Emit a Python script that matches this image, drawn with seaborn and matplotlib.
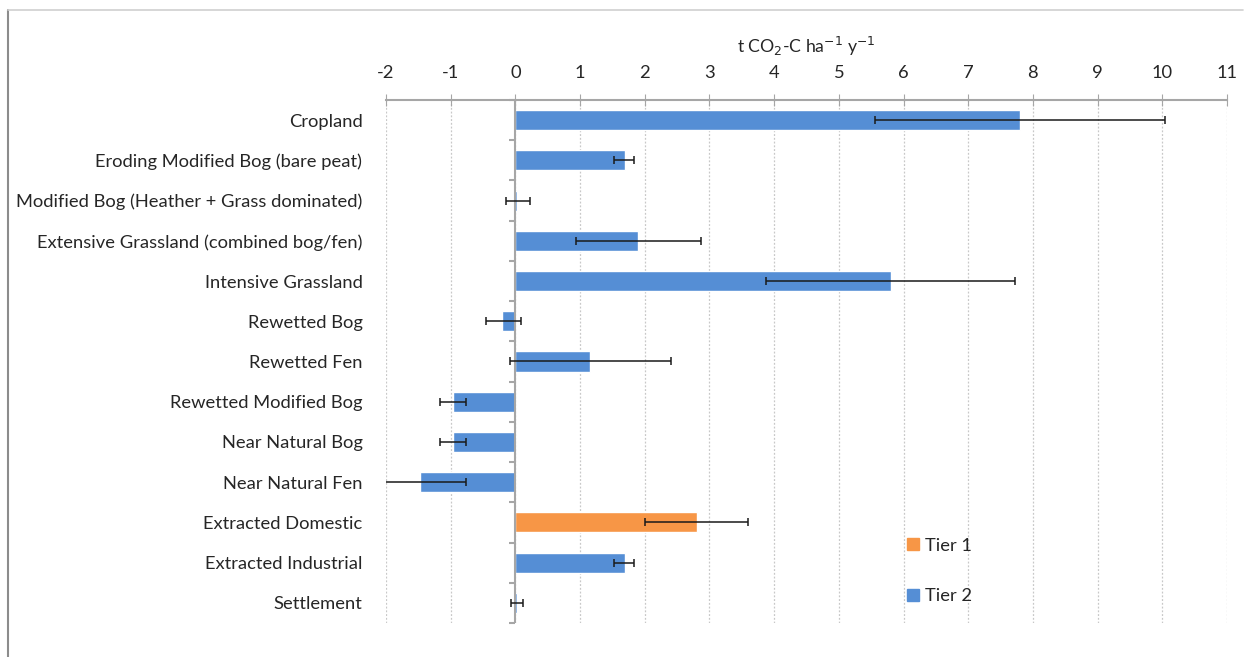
import numpy as np
import pandas as pd
import seaborn as sns
import matplotlib.pyplot as plt
from matplotlib.lines import Line2D

# Data
categories = [
    "Cropland",
    "Eroding Modified Bog (bare peat)",
    "Modified Bog (Heather + Grass dominated)",
    "Extensive Grassland (combined bog/fen)",
    "Intensive Grassland",
    "Rewetted Bog",
    "Rewetted Fen",
    "Rewetted Modified Bog",
    "Near Natural Bog",
    "Near Natural Fen",
    "Extracted Domestic",
    "Extracted Industrial",
    "Settlement",
]
values = [7.80, 1.69, 0.03, 1.89, 5.81, -0.20, 1.16, -0.97, -0.97, -1.48, 2.80, 1.69, 0.02]
err_low = [2.24, 0.16, 0.18, 0.96, 1.93, 0.26, 1.25, 0.20, 0.20, 0.70, 0.80, 0.16, 0.09]
err_high = [2.24, 0.15, 0.19, 0.98, 1.92, 0.28, 1.25, 0.20, 0.20, 0.71, 0.79, 0.15, 0.09]
tiers = ["Tier 2"] * 10 + ["Tier 1"] + ["Tier 2"] * 2

df = pd.DataFrame({"category": categories, "value": values, "tier": tiers})

sns.set_style("white")
plt.rcParams["font.family"] = ["Lato", "DejaVu Sans"]
plt.rcParams["axes.unicode_minus"] = False

blue = "#558ED5"
orange = "#F79646"
grey = "#A6A6A6"
text_col = "#262626"
fs = 13.2

fig = plt.figure(figsize=(12.44, 6.57), dpi=100)
ax = fig.add_axes([386 / 1244, 1 - 623 / 657, (1227 - 386) / 1244, (623 - 100) / 657])

sns.barplot(data=df, x="value", y="category", hue="tier", hue_order=["Tier 1", "Tier 2"],
            palette={"Tier 1": orange, "Tier 2": blue}, orient="h", dodge=False,
            width=0.5, errorbar=None, saturation=1, ax=ax, legend=False)

ypos = np.arange(len(categories))
ax.errorbar(values, ypos, xerr=[err_low, err_high], fmt="none", ecolor="#1a1a1a",
            elinewidth=1.1, capsize=3, capthick=1.1, zorder=5)

ax.set_xlim(-2, 11)
ax.set_ylim(len(categories) - 0.5, -0.5)
ax.set_xticks(range(-2, 12))
ax.xaxis.tick_top()
ax.xaxis.set_label_position("top")
ax.set_xlabel("t CO$_2$-C ha$^{-1}$ y$^{-1}$", fontsize=fs - 0.5, color=text_col, labelpad=8)
ax.tick_params(axis="x", direction="inout", length=8, color=grey, labelsize=fs,
               labelcolor=text_col, pad=10)
ax.tick_params(axis="y", length=0, labelsize=fs, labelcolor=text_col, pad=17)
ax.set_ylabel("")

for side in ["left", "right", "bottom"]:
    ax.spines[side].set_visible(False)
ax.spines["top"].set_color(grey)
ax.spines["top"].set_linewidth(1.5)

ax.grid(axis="x", color="#C8C8C8", linestyle=(0, (1.5, 1.5)), linewidth=0.9)
ax.set_axisbelow(True)

# vertical zero axis with category boundary ticks
ax.axvline(0, color=grey, lw=1.5, zorder=3)
bounds = np.arange(len(categories) + 1) - 0.5
ax.hlines(bounds, -0.1, 0, color=grey, lw=1.5, zorder=3, clip_on=False)

# legend
handles = [Line2D([], [], marker="s", ls="", markersize=9, color=orange),
           Line2D([], [], marker="s", ls="", markersize=9, color=blue)]
fig.legend(handles, ["Tier 1", "Tier 2"], loc="center left",
           bbox_to_anchor=(887 / 1244, 1 - 571 / 657), frameon=False, fontsize=fs,
           labelspacing=1.9, handletextpad=0.15, handlelength=1.0, labelcolor=text_col)

# outer frame lines
fig.add_artist(Line2D([8 / 1244, 8 / 1244], [0, 1 - 10 / 657], transform=fig.transFigure,
                      color="#8C8C8C", lw=1.5))
fig.add_artist(Line2D([8 / 1244, 1243 / 1244], [1 - 10 / 657, 1 - 10 / 657],
                      transform=fig.transFigure, color="#CFCFCF", lw=1.2))

fig.savefig("out.png", dpi=100)
